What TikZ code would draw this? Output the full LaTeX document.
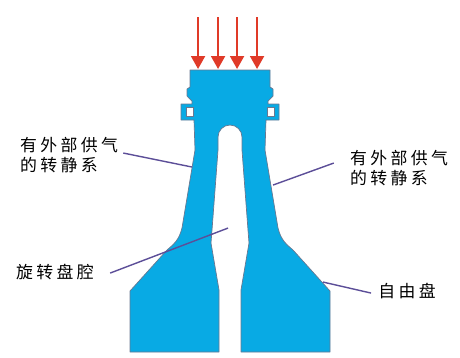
\documentclass[tikz,border=0pt]{standalone}
\usepackage{fontspec}
\newfontfamily\cjk[LetterSpace=20]{Noto Sans CJK SC}
\usetikzlibrary{arrows.meta,calc}

\definecolor{diskblue}{RGB}{8,170,228}
\definecolor{diskedge}{RGB}{105,120,145}
\definecolor{flowred}{RGB}{224,58,40}
\definecolor{leadpurple}{RGB}{92,78,152}

\begin{document}
\begin{tikzpicture}[scale=0.02,
  every node/.style={inner sep=0pt,font=\cjk\fontsize{9.6}{11.4}\selectfont},
  disk/.style={fill=diskblue,draw=diskedge,line width=0.4pt,line join=round},
  flow/.style={draw=flowred,line width=1.1pt,-{Triangle[length=0.26cm,width=0.28cm]}},
  lead/.style={draw=leadpurple,line width=0.8pt}]
\useasboundingbox (0,0) rectangle (460,-357);
% rotating disk with blade root and two legs
\draw [disk] (190,-70) -- (270,-70) -- (270,-87) -- (273,-89) -- (273,-96)
  -- (268,-101) -- (268,-104) -- (279,-104) -- (279,-120) -- (266,-120)
  -- (265,-150) -- (278,-228) .. controls (281,-240) and (286,-244) .. (293,-250)
  -- (330,-291) -- (330,-352) -- (241,-352) -- (241,-290) -- (249,-243)
  -- (248,-230) -- (242,-150) -- (242,-137) arc (0:180:12)
  -- (218,-150) -- (212,-230) -- (211,-243) -- (219,-290) -- (219,-352)
  -- (130,-352) -- (130,-291) -- (167,-250) .. controls (174,-244) and (179,-240) .. (182,-228)
  -- (195,-150) -- (194,-120) -- (181,-120) -- (181,-104) -- (192,-104)
  -- (192,-101) -- (187,-96) -- (187,-89) -- (190,-87) -- cycle;
% hook slots
\filldraw [fill=white,draw=diskedge,line width=0.4pt] (186,-107) rectangle (193,-116);
\filldraw [fill=white,draw=diskedge,line width=0.4pt] (267,-107) rectangle (274,-116);
% incoming air
\coordinate (in1) at (198,-17);
\coordinate (to1) at (198,-69);
\coordinate (in2) at (218,-17);
\coordinate (to2) at (218,-69);
\coordinate (in3) at (237,-17);
\coordinate (to3) at (237,-69);
\coordinate (in4) at (257,-17);
\coordinate (to4) at (257,-69);
\draw [flow] (in1) -- (to1);
\draw [flow] (in2) -- (to2);
\draw [flow] (in3) -- (to3);
\draw [flow] (in4) -- (to4);
% labels
\node (statl) at (69,-155) [align=left] {有外部供气\\的转静系};
\node (statr) at (399,-168) [align=left] {有外部供气\\的转静系};
\node (cavity) at (55,-272) {旋转盘腔};
\node (free) at (407,-291) {自由盘};
\coordinate (pstatl) at (192,-167);
\coordinate (pstatr) at (273,-185);
\coordinate (pcavity) at (228,-228);
\coordinate (pfree) at (323,-282);
\draw [lead] ($(statl.east)+(5,2)$) -- (pstatl);
\draw [lead] (pstatr) -- ($(statr.west)+(-16,5)$);
\draw [lead] ($(cavity.east)+(16,-1)$) -- (pcavity);
\draw [lead] (pfree) -- ($(free.west)+(-7,-2)$);
\end{tikzpicture}
\end{document}
